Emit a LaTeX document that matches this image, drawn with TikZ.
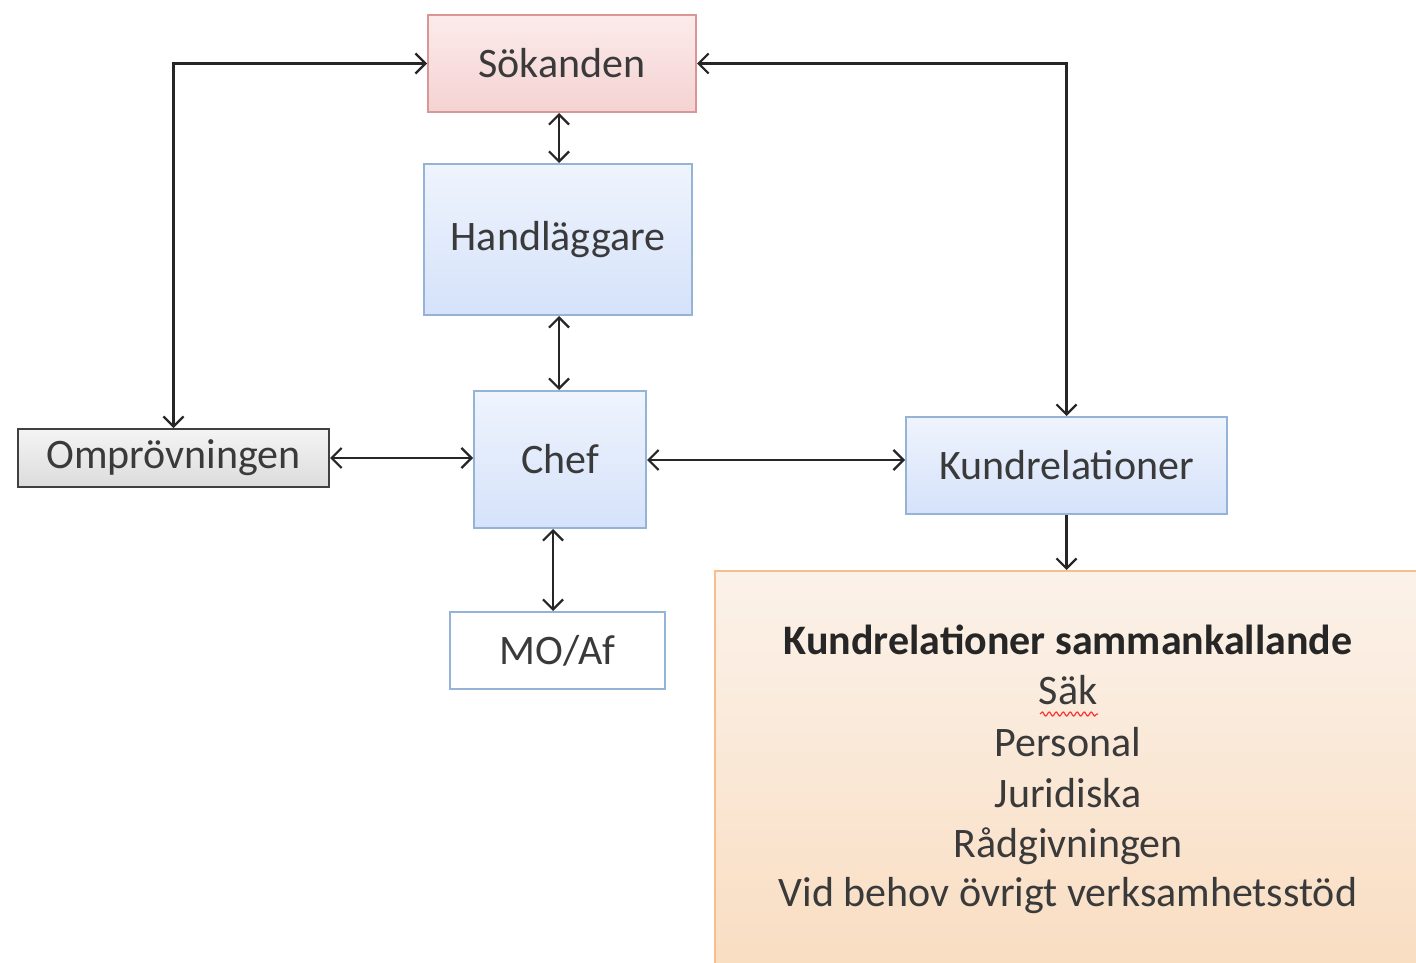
\documentclass[tikz,border=0pt]{standalone}
\usepackage{fontspec}
\setmainfont{Carlito}
\usetikzlibrary{arrows.meta,decorations.pathmorphing}
\definecolor{pinkA}{HTML}{FBEBEB}
\definecolor{pinkB}{HTML}{F5D2D2}
\definecolor{pinkD}{HTML}{D99694}
\definecolor{blueA}{HTML}{EFF4FD}
\definecolor{blueB}{HTML}{D5E2FA}
\definecolor{blueD}{HTML}{95B3D7}
\definecolor{grayA}{HTML}{F4F4F4}
\definecolor{grayB}{HTML}{DCDCDC}
\definecolor{grayD}{HTML}{404040}
\definecolor{orA}{HTML}{FBF2EA}
\definecolor{orB}{HTML}{F9DCBF}
\definecolor{orD}{HTML}{F6C08E}
\definecolor{txt}{HTML}{3A3A3A}
\begin{document}
\begin{tikzpicture}[x=1pt,y=-1pt,
  lbl/.style={font=\fontsize{42}{50}\selectfont, text=txt},
  box/.style={draw, line width=2pt, inner sep=0pt, lbl},
  bluebox/.style={box, draw=blueD, top color=blueA, bottom color=blueB},
  link/.style={line width=2.2pt, draw=black!85, {Straight Barb[length=10pt,width=20pt]}-{Straight Barb[length=10pt,width=20pt]}},
  onelink/.style={line width=2.2pt, draw=black!85, -{Straight Barb[length=10pt,width=20pt]}}
]
\useasboundingbox (0,0) rectangle (1416,963);
\begin{scope}
\clip (0,0) rectangle (1416,963);
\node[box, draw=orD, top color=orA, bottom color=orB, minimum width=720, minimum height=420, anchor=north west] (big) at (714,570) {};
\end{scope}
\node[box, draw=pinkD, top color=pinkA, bottom color=pinkB, minimum width=268, minimum height=97] (sok) at (562,63.5) {Sökanden};
\node[bluebox, minimum width=268, minimum height=151] (hand) at (558,239.5) {Handläggare};
\node[bluebox, minimum width=172, minimum height=137] (chef) at (560,459.5) {Chef};
\node[box, draw=grayD, top color=grayA, bottom color=grayB, minimum width=311, minimum height=58] (omp) at (173.5,458) {Omprövningen};
\node[bluebox, minimum width=321, minimum height=97] (kund) at (1066.5,465.5) {Kundrelationer};
\node[box, draw=blueD, fill=white, minimum width=215, minimum height=77] (mo) at (557.5,650.5) {MO/Af};

\node[lbl, font=\fontsize{42}{50}\selectfont\bfseries, text=black!85] (l1) at (1068,640) {Kundrelationer sammankallande};
\node[lbl] (l2) at (1068,690) {Säk};
\node[lbl] (l3) at (1068,742) {Personal};
\node[lbl] (l4) at (1068,793) {Juridiska};
\node[lbl] (l5) at (1068,846) {Rådgivningen};
\node[lbl] (l6) at (1068,896) {Vid behov övrigt verksamhetsstöd};
\coordinate (sq1) at (1040,714);
\coordinate (sq2) at (1098,714);
\draw[red!80, line width=1.2pt, decorate, decoration={snake, amplitude=2pt, segment length=7pt}] (sq1) -- (sq2);

\draw[link] (sok.south -| 559,0) -- (hand.north -| 559,0);
\draw[link] (hand.south -| 559,0) -- (chef.north -| 559,0);
\draw[link] (chef.south -| 553,0) -- (mo.north -| 553,0);
\draw[link] (omp.east) -- (chef.west |- omp.east);
\draw[link] (chef.east |- 0,460) -- (kund.west |- 0,460);
\draw[link] (omp.north) |- (sok.west);
\draw[link] (sok.east) -| (kund.north);
\draw[onelink] (kund.south) -- (big.north -| kund.south);
\end{tikzpicture}
\end{document}
